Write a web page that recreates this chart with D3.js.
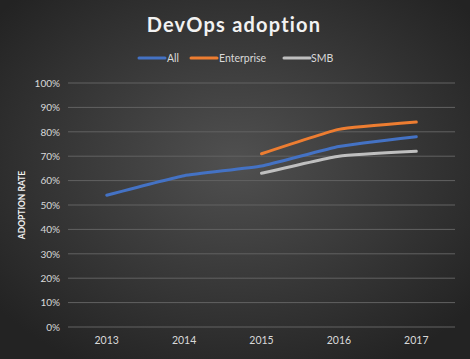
<!DOCTYPE html>
<html><head><meta charset="utf-8">
<script src="https://cdn.jsdelivr.net/npm/d3@7"></script>
<style>html,body{margin:0;padding:0;background:#333;}svg{display:block;}</style>
</head><body>
<script>
const years = ["2013","2014","2015","2016","2017"];
const allValues = [54, 62, 66, 74, 78];
const enterpriseValues = [null, null, 71, 81, 84];
const smbValues = [null, null, 63, 70, 72];
const yTicks = [0,10,20,30,40,50,60,70,80,90,100];
const seriesNames = ["All","Enterprise","SMB"];
const seriesColors = ["#4472C4","#ED7D31","#BFBFBF"];

const W = 470, H = 359;
const svg = d3.select("body").append("svg").attr("width", W).attr("height", H);
const defs = svg.append("defs");
const grad = defs.append("radialGradient").attr("id","bg").attr("cx","50%").attr("cy","45%").attr("r","65%");
grad.append("stop").attr("offset","0%").attr("stop-color","#505050");
grad.append("stop").attr("offset","100%").attr("stop-color","#232323");
svg.append("rect").attr("width",W).attr("height",H).attr("fill","url(#bg)");

const font = "Lato, 'Open Sans', sans-serif";
const x = d3.scaleBand().domain(years).range([68, 455]);
const y = d3.scaleLinear().domain([0, 100]).range([327, 83]);

// gridlines
svg.append("g").selectAll("line").data(yTicks).join("line")
  .attr("x1", 68).attr("x2", 455)
  .attr("y1", d => y(d)).attr("y2", d => y(d))
  .attr("stroke", "#626262").attr("stroke-width", 1);

// y axis labels
const yAxis = d3.axisLeft(y).tickValues(yTicks).tickFormat(d => d + "%").tickSize(0).tickPadding(8);
const yg = svg.append("g").attr("transform","translate(68,0)").call(yAxis);
yg.select(".domain").remove();
yg.selectAll("text").attr("fill","#d9d9d9").style("font-family",font).style("font-size","10px");

// x axis labels
const xAxis = d3.axisBottom(x).tickSize(0).tickPadding(10);
const xg = svg.append("g").attr("transform","translate(0,327)").call(xAxis);
xg.select(".domain").remove();
xg.selectAll("text").attr("fill","#d9d9d9").style("font-family",font).style("font-size","10.5px");

// lines
const seriesData = [allValues, enterpriseValues, smbValues];
const line = d3.line()
  .defined(d => d.v !== null)
  .x(d => x(d.year) + x.bandwidth()/2)
  .y(d => y(d.v))
  .curve(d3.curveCardinal.tension(0.6));
const order = [2, 0, 1];
order.forEach(i => {
  const pts = years.map((yr, j) => ({year: yr, v: seriesData[i][j]}));
  svg.append("path").datum(pts.filter(p => p.v !== null))
    .attr("d", line).attr("fill","none")
    .attr("stroke", seriesColors[i]).attr("stroke-width", 3).attr("stroke-linecap","round");
});

// title
svg.append("text").attr("x", 234).attr("y", 32).attr("text-anchor","middle")
  .attr("fill","#f2f2f2").style("font-family",font).style("font-weight","bold").style("font-size","20px")
  .style("letter-spacing","1.2px")
  .text("DevOps adoption");

// legend
const legendItems = [
  {x0: 139, tx: 167},
  {x0: 191, tx: 219},
  {x0: 284, tx: 311}
];
legendItems.forEach((l, i) => {
  svg.append("line").attr("x1", l.x0).attr("x2", l.x0 + 26).attr("y1", 58).attr("y2", 58)
    .attr("stroke", seriesColors[i]).attr("stroke-width", 3).attr("stroke-linecap","round");
  svg.append("text").attr("x", l.tx).attr("y", 62).attr("fill","#d9d9d9")
    .style("font-family",font).style("font-size","10.5px").text(seriesNames[i]);
});

// y axis title
svg.append("text").attr("transform","translate(25,205) rotate(-90)").attr("text-anchor","middle")
  .attr("fill","#f2f2f2").style("font-family",font).style("font-weight","bold").style("font-size","8.5px")
  .text("ADOPTION RATE");
</script>
</body></html>
